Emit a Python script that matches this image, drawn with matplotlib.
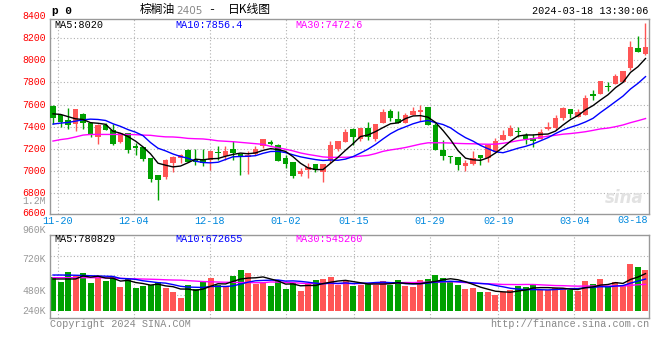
import matplotlib
matplotlib.use('Agg')
import matplotlib.pyplot as plt
import numpy as np
import pandas as pd

# ---------------- data ----------------
dates = (['11-17', '11-20', '11-21', '11-22', '11-23', '11-24', '11-27', '11-28', '11-29', '11-30', '12-01',
          '12-04', '12-05', '12-06', '12-07', '12-08', '12-11', '12-12', '12-13', '12-14', '12-15',
          '12-18', '12-19', '12-20', '12-21', '12-22', '12-25', '12-26', '12-27', '12-28', '12-29',
          '01-02', '01-03', '01-04', '01-05', '01-08', '01-09', '01-10', '01-11', '01-12',
          '01-15', '01-16', '01-17', '01-18', '01-19', '01-22', '01-23', '01-24', '01-25', '01-26',
          '01-29', '01-30', '01-31', '02-01', '02-02', '02-05', '02-06', '02-07', '02-08',
          '02-19', '02-20', '02-21', '02-22', '02-23', '02-26', '02-27', '02-28', '02-29', '03-01',
          '03-04', '03-05', '03-06', '03-07', '03-08', '03-11', '03-12', '03-13', '03-14', '03-15',
          '03-18'])

opens = [7585, 7504, 7456, 7426, 7510, 7432, 7306, 7414, 7372, 7258,
         7342, 7225, 7216, 7114, 6961, 6940, 7072, 7111, 7186, 7093,
         7105, 7098, 7165, 7135, 7193, 7150, 7126, 7153, 7223, 7263,
         7236, 7111, 7074, 6970, 7001, 7062, 6983, 7098, 7196, 7257,
         7373, 7282, 7388, 7282, 7434, 7538, 7465, 7428, 7501, 7532,
         7574, 7410, 7190, 7135, 7123, 7044, 7062, 7144, 7114, 7169,
         7276, 7313, 7359, 7322, 7292, 7283, 7377, 7383, 7481, 7561,
         7491, 7506, 7698, 7698, 7766, 7790, 7805, 7934, 8117, 8056]
highs = [7600, 7510, 7564, 7555, 7520, 7432, 7426, 7435, 7426, 7342,
         7342, 7246, 7216, 7114, 6961, 7108, 7130, 7150, 7192, 7200,
         7199, 7175, 7220, 7227, 7266, 7150, 7174, 7220, 7290, 7281,
         7245, 7144, 7074, 7025, 7068, 7062, 7062, 7266, 7266, 7373,
         7388, 7388, 7443, 7419, 7562, 7562, 7544, 7526, 7581, 7599,
         7574, 7434, 7281, 7135, 7123, 7098, 7175, 7144, 7236, 7294,
         7368, 7414, 7393, 7338, 7332, 7374, 7442, 7506, 7576, 7561,
         7558, 7689, 7735, 7818, 7808, 7873, 7900, 8176, 8218, 8341]
lows = [7425, 7396, 7375, 7360, 7378, 7306, 7240, 7366, 7231, 7246,
        7156, 7141, 7090, 6900, 6736, 6925, 6991, 7072, 7075, 7050,
        7044, 7001, 7098, 7098, 7098, 6961, 6970, 7144, 7205, 7230,
        7083, 7022, 6928, 6952, 6928, 6983, 6900, 7068, 7175, 7257,
        7236, 7266, 7276, 7266, 7434, 7449, 7428, 7428, 7501, 7449,
        7410, 7190, 7098, 7068, 7007, 6992, 7047, 7047, 7074, 7169,
        7276, 7313, 7307, 7240, 7215, 7283, 7368, 7368, 7460, 7478,
        7491, 7506, 7643, 7698, 7720, 7790, 7805, 7913, 8078, 8047]
closes = [7480, 7438, 7414, 7555, 7432, 7336, 7411, 7366, 7240, 7342,
          7186, 7204, 7102, 6925, 6916, 7096, 7126, 7141, 7075, 7078,
          7065, 7175, 7155, 7175, 7162, 7126, 7144, 7193, 7290, 7242,
          7083, 7062, 6952, 6992, 7031, 7007, 7062, 7236, 7266, 7349,
          7306, 7388, 7306, 7419, 7532, 7480, 7428, 7501, 7538, 7547,
          7410, 7190, 7135, 7120, 7053, 7065, 7114, 7111, 7236, 7272,
          7322, 7387, 7347, 7289, 7270, 7353, 7399, 7481, 7564, 7518,
          7536, 7659, 7674, 7818, 7757, 7857, 7900, 8127, 8078, 8127]
volumes_k = [734, 620, 834, 756, 813, 599, 720, 642, 727, 513,
             677, 492, 528, 563, 613, 492, 406, 278, 556, 478,
             627, 706, 549, 535, 749, 877, 813, 578, 627, 535,
             663, 478, 592, 428, 570, 663, 684, 734, 556, 642,
             535, 556, 599, 556, 642, 563, 663, 535, 513, 663,
             684, 770, 706, 627, 556, 470, 492, 406, 406, 342,
             406, 449, 535, 513, 556, 449, 449, 492, 492, 449,
             420, 642, 578, 684, 513, 620, 556, 1005, 941, 877]

ma5_head = [7515, 7510, 7490, 7470]
ma10_head = [7422, 7431, 7437, 7449, 7461, 7467, 7464, 7455, 7425]
ma30_head = [7268, 7281, 7290, 7305, 7322, 7328, 7328, 7328, 7328, 7328,
             7328, 7326, 7322, 7320, 7312, 7306, 7305, 7300, 7292, 7289,
             7287, 7280, 7270, 7266, 7262, 7256, 7250, 7244, 7238]
vma5_head = [685, 685, 685, 685]
vma10_head = [770, 770, 768, 765, 760, 755, 750, 745, 740]
vma30_head = [713, 713, 713, 713, 713, 713, 713, 710, 705, 700,
              692, 688, 684, 680, 675, 668, 663, 660, 650, 640,
              630, 625, 620, 615, 613, 610, 608, 606, 605]

tick_dates = ['11-20', '12-04', '12-18', '01-02', '01-15', '01-29', '02-19', '03-04']
last_date = '03-18'
price_ticks = [6600, 6800, 7000, 7200, 7400, 7600, 7800, 8000, 8200, 8400]
vol_tick_labels = ['1.2M', '960K', '720K', '480K', '240K']

title_name = '棕榈油'
title_code = '2405'
title_kind = '日K线图'
timestamp = '2024-03-18 13:30:06'
legend_price = ['MA5:8020', 'MA10:7856.4', 'MA30:7472.6']
legend_vol = ['MA5:780829', 'MA10:672655', 'MA30:545260']

# ---------------- style ----------------
RED = '#ff5555'
GREEN = '#00a000'
GRID = '#b0b0b0'
BORDER = '#999999'
MONO = 'Liberation Mono'
CJK = ['Noto Sans CJK SC', 'DejaVu Sans']
W, H = 660, 360

o = np.array(opens, float); h = np.array(highs, float)
l = np.array(lows, float); c = np.array(closes, float)
v = np.array(volumes_k, float) * 1000
n = len(c)
x = np.arange(n)
up = c >= o
cols = np.where(up, RED, GREEN)


def with_head(series, head, win):
    m = pd.Series(series).rolling(win).mean().values
    m[:len(head)] = head
    return m


ma5 = with_head(c, ma5_head, 5)
ma10 = with_head(c, ma10_head, 10)
ma30 = with_head(c, ma30_head, 30)
vma5 = with_head(v, np.array(vma5_head) * 1000, 5)
vma10 = with_head(v, np.array(vma10_head) * 1000, 10)
vma30 = with_head(v, np.array(vma30_head) * 1000, 30)

fig = plt.figure(figsize=(W / 100, H / 100), dpi=100)
fig.patch.set_facecolor('white')


def fx(px):
    return px / W


def fy(py):
    return 1 - py / H


L, R = 50, 649
ax = fig.add_axes([fx(L), fy(214), fx(R - L), (214 - 19) / H])
axv = fig.add_axes([fx(L), fy(318), fx(R - L), (318 - 234.5) / H])

slot = 7.5  # px per candle
x0px = 53
xlim = ((L - x0px) / slot, (R - x0px) / slot)

# gridline x positions (px) used by the site: 7.6 px per trading day starting at 57.7
tick_idx = [dates.index(d) for d in tick_dates]
tick_pos = [((57.7 + 7.6 * (i - tick_idx[0])) - x0px) / slot for i in tick_idx]

# ---- price panel ----
ax.set_xlim(*xlim)
ax.set_ylim(6605, 8377)
for p in price_ticks[1:-1]:
    ax.axhline(p, color=GRID, lw=0.8, ls=(0, (1, 2)), zorder=0)
for tp in tick_pos:
    ax.axvline(tp, color=GRID, lw=0.8, ls=(0, (1, 2)), zorder=0)

ax.vlines(x, l, h, colors=cols, lw=1, zorder=2)
body_lo = np.minimum(o, c)
body_h = np.maximum(np.abs(c - o), 9)
ax.bar(x, body_h, bottom=body_lo, width=0.76, color=cols, linewidth=0, zorder=3)

ax.plot(x, ma30, color='#ff00ff', lw=1, zorder=4)
ax.plot(x, ma10, color='#0000ff', lw=1, zorder=4)
ax.plot(x, ma5, color='black', lw=1, zorder=4)

ax.set_xticks([]); ax.set_yticks([])
for s in ax.spines.values():
    s.set_color(BORDER); s.set_linewidth(1)

for p in price_ticks:
    yy = p + (15 if p == 6600 else 0)
    ax.text(-0.007, yy, str(p), transform=ax.get_yaxis_transform(), ha='right', va='center',
            color='#ff0000', fontsize=7.1, family=MONO, clip_on=False)

# legend row
leg_cols = ['black', '#0000ff', '#ff00ff']
leg_x = [54, 175, 295]
for t, col, lx in zip(legend_price, leg_cols, leg_x):
    fig.text(fx(lx), fy(24.5), t, color=col, fontsize=7.3, family=MONO, va='center', ha='left')

# watermark
fig.text(fx(624), fy(198), 'sina', color='#e2e2e2', fontsize=12, family='DejaVu Sans',
         style='italic', weight='bold', ha='center', va='center')

# ---- volume panel ----
vscale = 21400.0  # volume per px
axv.set_xlim(*xlim)
axv.set_ylim(-(318 - 311) * vscale, (311 - 234.5) * vscale)
for gy in [255.7, 275.3, 295]:
    axv.axhline((311 - gy) * vscale, color=GRID, lw=0.8, ls=(0, (1, 2)), zorder=0)
for tp in tick_pos:
    axv.axvline(tp, color=GRID, lw=0.8, ls=(0, (1, 2)), zorder=0)
axv.bar(x, v, width=0.8, color=cols, linewidth=0, zorder=2)
axv.plot(x, vma30, color='#ff00ff', lw=1, zorder=4)
axv.plot(x, vma10, color='#0000ff', lw=1, zorder=4)
axv.plot(x, vma5, color='black', lw=1, zorder=4)
axv.set_xticks([]); axv.set_yticks([])
for s in axv.spines.values():
    s.set_color(BORDER); s.set_linewidth(1)

for t, col, lx in zip(legend_vol, leg_cols, leg_x):
    fig.text(fx(lx), fy(238.5), t, color=col, fontsize=7.3, family=MONO, va='center', ha='left')

vol_label_y = [201.5, 230, 259, 291.5, 311]
for t, yy in zip(vol_tick_labels, vol_label_y):
    fig.text(fx(46), fy(yy), t, color='#999999', fontsize=7.1, family=MONO, ha='right', va='center')

# date labels
for tp, d in zip(tick_pos, tick_dates):
    ax.text(tp, -0.01, d, transform=ax.get_xaxis_transform(), ha='center', va='top',
            color='#0088dd', fontsize=7.3, family=MONO, clip_on=False)
fig.text(fx(648), fy(220), last_date, color='#0088dd', fontsize=7.3, family=MONO,
         ha='right', va='center')

# header
fig.text(fx(52), fy(10.5), 'p 0', color='black', fontsize=8, family=MONO, weight='bold',
         ha='left', va='center')
fig.text(fx(140), fy(10), title_name, color='black', fontsize=8.5, family=CJK, ha='left', va='center')
fig.text(fx(176), fy(10.5), title_code, color='#888888', fontsize=7.5, family='DejaVu Sans',
         ha='left', va='center')
fig.text(fx(208), fy(10), '-', color='black', fontsize=8.5, family=MONO, ha='left', va='center')
fig.text(fx(228), fy(10), title_kind, color='black', fontsize=8.5, family=CJK, ha='left', va='center')
fig.text(fx(648), fy(11.5), timestamp, color='black', fontsize=7.3, family=MONO, ha='right', va='center')

# footer
fig.text(fx(50), fy(324), 'Copyright 2024 SINA.COM', color='#888888', fontsize=7.3, family=MONO,
         ha='left', va='center')
fig.text(fx(649), fy(324), 'http://finance.sina.com.cn', color='#888888', fontsize=7.3, family=MONO,
         ha='right', va='center')

fig.savefig('out.png', dpi=100, facecolor='white')
